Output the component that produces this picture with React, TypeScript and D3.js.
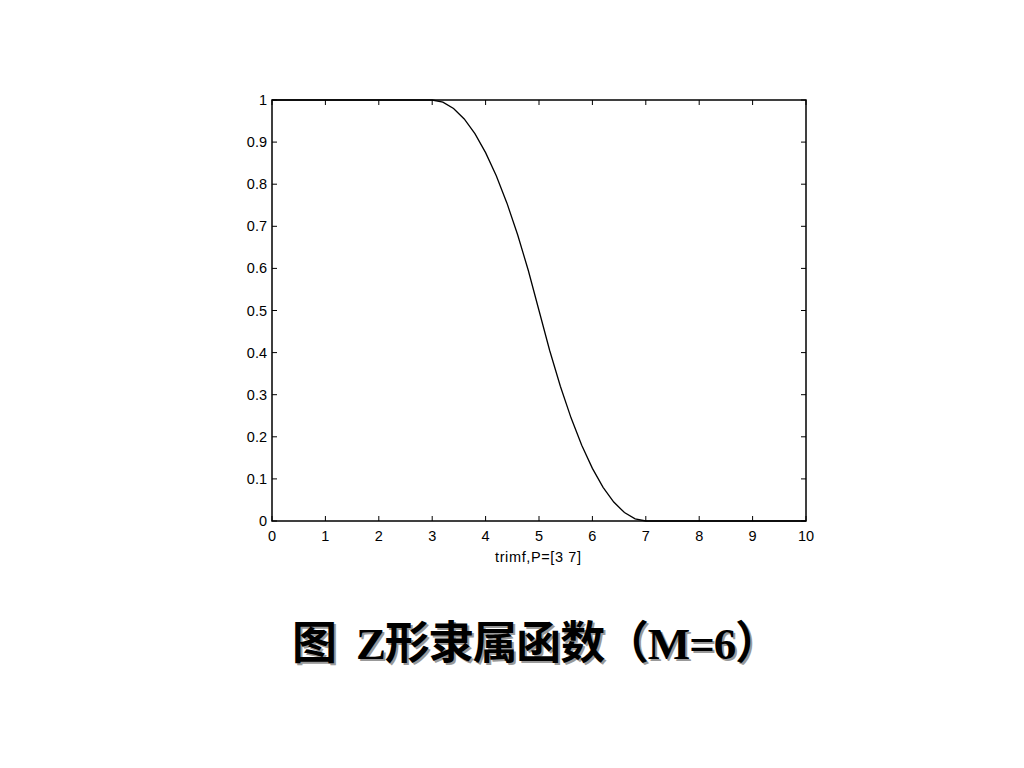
import React from "react";
import * as d3 from "d3";

const xTicks = [0, 1, 2, 3, 4, 5, 6, 7, 8, 9, 10];
const yTicks = [0, 0.1, 0.2, 0.3, 0.4, 0.5, 0.6, 0.7, 0.8, 0.9, 1];
const curveX = [0, 3.0, 3.2, 3.4, 3.6, 3.8, 4.0, 4.2, 4.4, 4.6, 4.8, 5.0, 5.2, 5.4, 5.6, 5.8, 6.0, 6.2, 6.4, 6.6, 6.8, 7.0, 10];
const curveY = [1, 1.0, 0.995, 0.98, 0.955, 0.92, 0.875, 0.82, 0.755, 0.68, 0.595, 0.5, 0.405, 0.32, 0.245, 0.18, 0.125, 0.08, 0.045, 0.02, 0.005, 0, 0];
const xLabel = "trimf,P=[3 7]";
const title = "图  Z形隶属函数（M=6）";

export default function App() {
  const L = 272, R = 806, T = 100, B = 521;
  const x = d3.scaleLinear().domain([0, 10]).range([L, R]);
  const y = d3.scaleLinear().domain([0, 1]).range([B, T]);
  const pts: [number, number][] = curveX.map((v, i) => [v, curveY[i]]);
  const line = d3.line<[number, number]>().x(d => x(d[0])).y(d => y(d[1]));
  const tl = 5;
  const font = "'Liberation Sans', Arial, sans-serif";
  const tfont = "'Liberation Serif', 'Noto Sans CJK SC', serif";
  return (
    <svg width={1024} height={768} style={{ position: "absolute", left: 0, top: 0, background: "#fff" }}>
      <rect x={0} y={0} width={1024} height={768} fill="#fff" />
      <path d={line(pts) || ""} fill="none" stroke="#000" strokeWidth={1.3} />
      <rect x={L} y={T} width={R - L} height={B - T} fill="none" stroke="#000" strokeWidth={1.5} />
      {xTicks.map(t => (
        <g key={"x" + t}>
          <line x1={x(t)} x2={x(t)} y1={B} y2={B - tl} stroke="#000" strokeWidth={1} />
          <line x1={x(t)} x2={x(t)} y1={T} y2={T + tl} stroke="#000" strokeWidth={1} />
          <text x={x(t)} y={541} textAnchor="middle" fontFamily={font} fontSize={14.5}>{t}</text>
        </g>
      ))}
      {yTicks.map(t => (
        <g key={"y" + t}>
          <line x1={L} x2={L + tl} y1={y(t)} y2={y(t)} stroke="#000" strokeWidth={1} />
          <line x1={R} x2={R - tl} y1={y(t)} y2={y(t)} stroke="#000" strokeWidth={1} />
          <text x={267} y={y(t) + 5} textAnchor="end" fontFamily={font} fontSize={14.5}>{t}</text>
        </g>
      ))}
      <text x={538} y={562} textAnchor="middle" fontFamily={font} fontSize={14.5} textLength={86} lengthAdjust="spacing">{xLabel}</text>
      <text x={538} y={661} textAnchor="middle" fontFamily={tfont} fontSize={45} fontWeight="bold" fill="#999" xmlSpace="preserve" textLength={488} lengthAdjust="spacing">{title}</text>
      <text x={536} y={659} textAnchor="middle" fontFamily={tfont} fontSize={45} fontWeight="bold" fill="#000" xmlSpace="preserve" textLength={488} lengthAdjust="spacing">{title}</text>
    </svg>
  );
}
